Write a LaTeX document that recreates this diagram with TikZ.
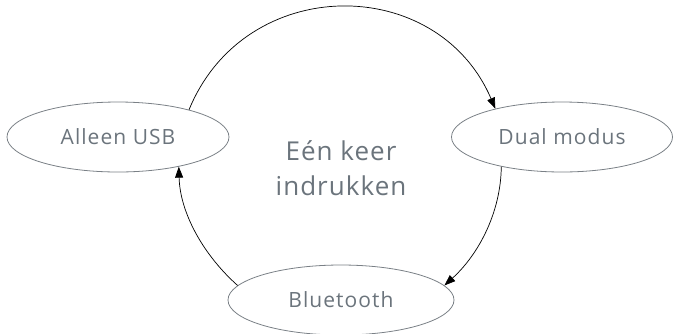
\documentclass[tikz,border=0pt]{standalone}
\usepackage{fontspec}
\setmainfont{Open Sans}
\newfontfamily\statefont[LetterSpace=5]{Open Sans}
\newfontfamily\midfont[LetterSpace=4]{Open Sans}
\usetikzlibrary{shapes.geometric,arrows.meta}
\definecolor{txt}{HTML}{6B747C}
\definecolor{edge}{HTML}{7A8086}
\tikzset{
  state/.style={ellipse, draw=edge, line width=0.8pt, inner sep=0pt, text=txt, font=\statefont\fontsize{21}{23}\selectfont},
  flow/.style={-{Triangle[length=11pt,width=8pt]}, line width=0.7pt, black}
}
\begin{document}
\begin{tikzpicture}[x=1pt,y=-1pt]
\useasboundingbox (0,0) rectangle (674,333);
\node[state, minimum width=222pt, minimum height=70pt] (usb) at (118,137) {Alleen USB};
\node[state, minimum width=221pt, minimum height=70pt] (dual) at (562,137) {Dual modus};
\node[state, minimum width=226pt, minimum height=70pt] (bt) at (341,300) {Bluetooth};
\node[text=txt, font=\midfont\fontsize{26}{35}\selectfont, align=center] (mid) at (341,168) {Eén keer\\indrukken};
\draw[flow] (usb.21) to[out=67.7, in=113.2, looseness=1.23] (dual.157);
\draw[flow] (dual.206) to[out=-90.5, in=42.2, looseness=0.89] (bt.8);
\draw[flow] (bt.172) to[out=138.3, in=271.5, looseness=0.89] (usb.334);
\end{tikzpicture}
\end{document}
